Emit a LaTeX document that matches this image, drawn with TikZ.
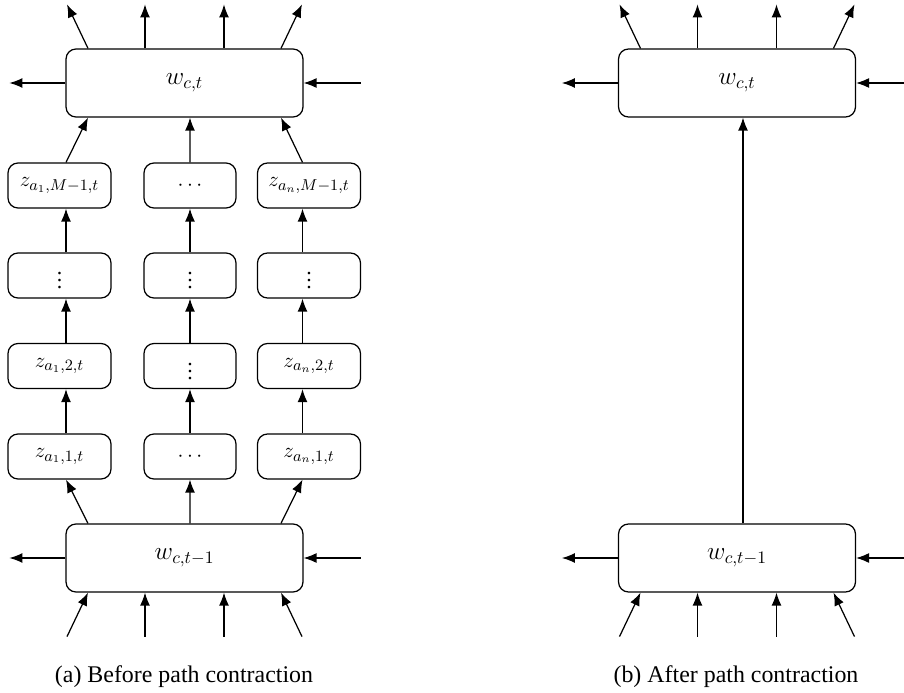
\documentclass[tikz,border=0pt]{standalone}
\usepackage{fontspec}
\setmainfont{Liberation Serif}
\usetikzlibrary{arrows.meta,calc}
\begin{document}
\begin{tikzpicture}[x=0.02cm,y=-0.02cm,
  box/.style={draw, rounded corners=2mm, line width=0.7pt, inner sep=0pt, font=\fontsize{13.6}{16}\selectfont},
  big/.style={box, minimum width=4.74cm, minimum height=1.36cm},
  zs/.style={box, minimum width=2.06cm, minimum height=0.9cm, font=\fontsize{12.4}{15}\selectfont},
  zm/.style={box, minimum width=1.84cm, minimum height=0.9cm, font=\fontsize{12.4}{15}\selectfont},
  arr/.style={-{Latex[length=2.6mm,width=2mm]}, line width=0.7pt},
  captext/.style={font=\fontsize{13.6}{16}\selectfont}]
\useasboundingbox (0,0) rectangle (904,693);

% ---------- left panel ----------
\node[big] (LT) at (184.5,83) {$w_{c,t}$};
\node[big] (LB) at (184.5,558) {$w_{c,t-1}$};

\node[zs] (a1) at (59.5,185.5) {$z_{a_1,M-1,t}$};
\node[zm] (b1) at (190,185.5) {$\cdots$};
\node[zs] (c1) at (309,185.5) {$z_{a_n,M-1,t}$};
\node[zs] (a2) at (59.5,275.5) {$\vdots$};
\node[zm] (b2) at (190,275.5) {$\vdots$};
\node[zs] (c2) at (309,275.5) {$\vdots$};
\node[zs] (a3) at (59.5,366) {$z_{a_1,2,t}$};
\node[zm] (b3) at (190,366) {$\vdots$};
\node[zs] (c3) at (309,366) {$z_{a_n,2,t}$};
\node[zs] (a4) at (59.5,456.5) {$z_{a_1,1,t}$};
\node[zm] (b4) at (190,456.5) {$\cdots$};
\node[zs] (c4) at (309,456.5) {$z_{a_n,1,t}$};

% outgoing from top box
\draw[arr] (LT.west) -- ++(-56,0);
\draw[arr] ($(LT.north)+(-96.5,0)$) -- ++(-21,-44);
\draw[arr] ($(LT.north)+(-39.5,0)$) -- ++(0,-44);
\draw[arr] ($(LT.north)+(39.5,0)$) -- ++(0,-44);
\draw[arr] ($(LT.north)+(96.5,0)$) -- ++(21,-44);
\draw[arr] ($(LT.east)+(57,0)$) -- (LT.east);

% bottom box
\draw[arr] (LB.west) -- ++(-56,0);
\draw[arr] ($(LB.east)+(57,0)$) -- (LB.east);
\draw[arr] ($(LB.south)+(-117.5,44)$) -- ($(LB.south)+(-96.5,0)$);
\draw[arr] ($(LB.south)+(-39.5,44)$) -- ($(LB.south)+(-39.5,0)$);
\draw[arr] ($(LB.south)+(39.5,44)$) -- ($(LB.south)+(39.5,0)$);
\draw[arr] ($(LB.south)+(117.5,44)$) -- ($(LB.south)+(96.5,0)$);

% bottom box to first z row
\draw[arr] ($(LB.north)+(-96.5,0)$) -- ($(a4.south)+(6.5,0)$);
\draw[arr] ($(LB.north)+(5.5,0)$) -- (b4.south);
\draw[arr] ($(LB.north)+(96.5,0)$) -- ($(c4.south)+(-6.5,0)$);

% chains
\foreach \u/\l in {a4/a3,a3/a2,a2/a1}{
  \draw[arr] ($(\u.north)+(6.5,0)$) -- ($(\l.south)+(6.5,0)$);}
\foreach \u/\l in {b4/b3,b3/b2,b2/b1}{
  \draw[arr] (\u.north) -- (\l.south);}
\foreach \u/\l in {c4/c3,c3/c2,c2/c1}{
  \draw[arr] ($(\u.north)+(-6.5,0)$) -- ($(\l.south)+(-6.5,0)$);}

% last z row to top box
\draw[arr] ($(a1.north)+(6.5,0)$) -- ($(LT.south)+(-96.5,0)$);
\draw[arr] (b1.north) -- ($(LT.south)+(5.5,0)$);
\draw[arr] ($(c1.north)+(-6.5,0)$) -- ($(LT.south)+(96.5,0)$);

\node[captext] (capa) at (184,677) {(a) Before path contraction};

% ---------- right panel ----------
\node[big] (RT) at (737,83) {$w_{c,t}$};
\node[big] (RB) at (737,558) {$w_{c,t-1}$};

\draw[arr] (RT.west) -- ++(-56,0);
\draw[arr] ($(RT.north)+(-96.5,0)$) -- ++(-21,-44);
\draw[arr] ($(RT.north)+(-39.5,0)$) -- ++(0,-44);
\draw[arr] ($(RT.north)+(39.5,0)$) -- ++(0,-44);
\draw[arr] ($(RT.north)+(96.5,0)$) -- ++(21,-44);
\draw[arr] ($(RT.east)+(57,0)$) -- (RT.east);

\draw[arr] (RB.west) -- ++(-56,0);
\draw[arr] ($(RB.east)+(57,0)$) -- (RB.east);
\draw[arr] ($(RB.south)+(-117.5,44)$) -- ($(RB.south)+(-96.5,0)$);
\draw[arr] ($(RB.south)+(-39.5,44)$) -- ($(RB.south)+(-39.5,0)$);
\draw[arr] ($(RB.south)+(39.5,44)$) -- ($(RB.south)+(39.5,0)$);
\draw[arr] ($(RB.south)+(117.5,44)$) -- ($(RB.south)+(96.5,0)$);

\draw[arr] ($(RB.north)+(6,0)$) -- ($(RT.south)+(6,0)$);

\node[captext] (capb) at (736,677) {(b) After path contraction};
\end{tikzpicture}
\end{document}
